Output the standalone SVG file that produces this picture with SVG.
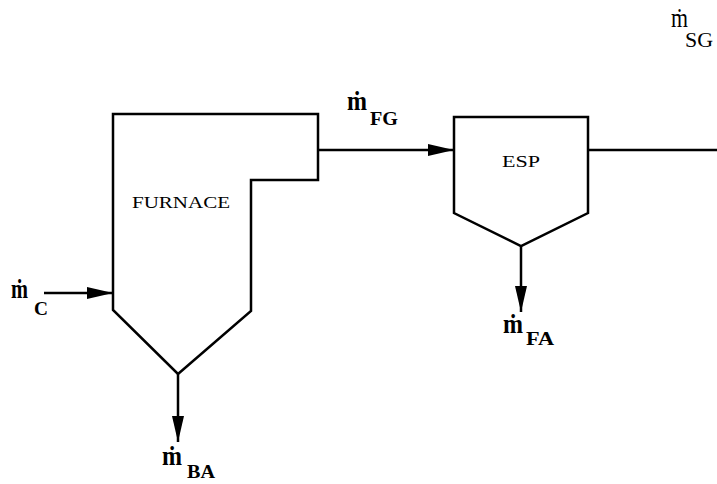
<svg xmlns="http://www.w3.org/2000/svg" width="717" height="484" viewBox="0 0 717 484">
<style>
.unit{fill:none;stroke:#000;stroke-width:2.5;stroke-linejoin:miter}
.flow{fill:none;stroke:#000;stroke-width:2.5}
text{fill:#000}
.m{font-size:28px;font-weight:bold}
.sub{font-size:19px;font-weight:bold}
.name{font-size:17px}
</style>
<defs>
<marker id="ah" viewBox="0 0 26 12" refX="26" refY="6" markerWidth="26" markerHeight="12" markerUnits="userSpaceOnUse" orient="auto">
<path d="M0,0 L26,6 L0,12 Z" fill="#000"/>
</marker>
</defs>
<rect width="717" height="484" fill="#fff"/>
<g id="furnace">
<path class="unit" d="M113,114 H318 V180 H251 V311 L178,374 L113,310 Z"/>
<text class="name" font-family="Liberation Serif, DejaVu Serif, serif" x="132" y="208" textLength="98" lengthAdjust="spacingAndGlyphs">FURNACE</text>
</g>
<g id="esp">
<path class="unit" d="M454,117 H588 V213 L521,246 L454,213 Z"/>
<text class="name" font-family="Liberation Serif, DejaVu Serif, serif" x="502" y="167" textLength="38" lengthAdjust="spacingAndGlyphs">ESP</text>
</g>
<g id="connectors">
<line class="flow" x1="44" y1="293" x2="113" y2="293" marker-end="url(#ah)"/>
<line class="flow" x1="318" y1="150" x2="454" y2="150" marker-end="url(#ah)"/>
<line class="flow" x1="588" y1="150" x2="717" y2="150"/>
<line class="flow" x1="178" y1="374" x2="178" y2="442" marker-end="url(#ah)"/>
<line class="flow" x1="521" y1="246" x2="521" y2="312" marker-end="url(#ah)"/>
</g>
<g id="labels" font-family="Liberation Serif, DejaVu Serif, serif">
<text class="m" x="11" y="298" textLength="17" lengthAdjust="spacingAndGlyphs">ṁ</text><text class="sub" x="34" y="315" textLength="14" lengthAdjust="spacingAndGlyphs">C</text>
<text class="m" x="347" y="110" textLength="20" lengthAdjust="spacingAndGlyphs">ṁ</text><text class="sub" x="370" y="125" textLength="28" lengthAdjust="spacingAndGlyphs">FG</text>
<text class="m" x="671" y="27" style="font-weight:normal" textLength="17" lengthAdjust="spacingAndGlyphs">ṁ</text><text x="685" y="47" style="font-size:20px" textLength="28" lengthAdjust="spacingAndGlyphs">SG</text>
<text class="m" x="162" y="465" textLength="20" lengthAdjust="spacingAndGlyphs">ṁ</text><text class="sub" x="187" y="478" textLength="28" lengthAdjust="spacingAndGlyphs">BA</text>
<text class="m" x="503" y="333" textLength="20" lengthAdjust="spacingAndGlyphs">ṁ</text><text class="sub" x="526" y="345" textLength="28" lengthAdjust="spacingAndGlyphs">FA</text>
</g>
</svg>
